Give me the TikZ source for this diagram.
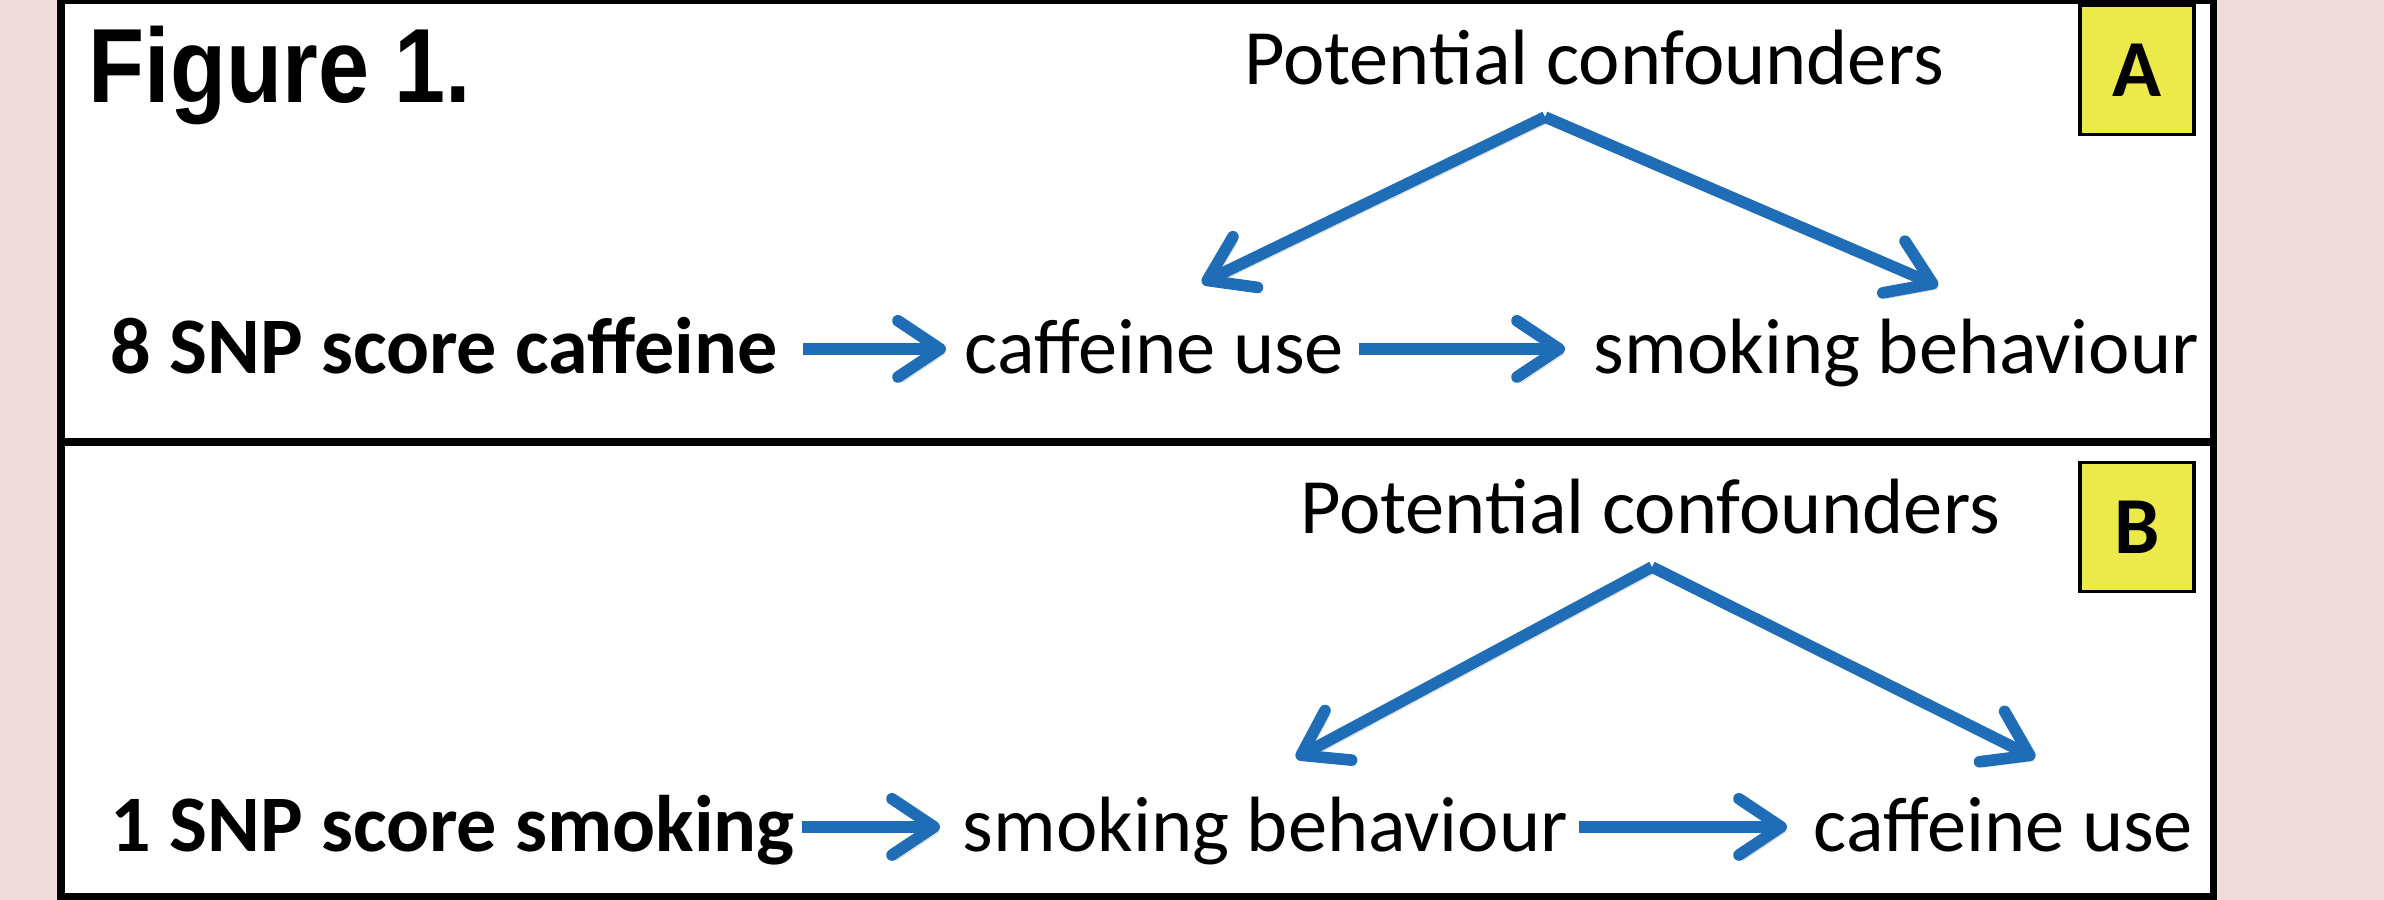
\documentclass[tikz,border=0pt]{standalone}
\usepackage{fontspec}
\setmainfont{Carlito}
\newfontfamily\headfont{Liberation Sans}
\usepackage{tikz}
\usetikzlibrary{arrows.meta, positioning}
\definecolor{arrowblue}{HTML}{1F6DB7}
\definecolor{labelyellow}{HTML}{ECE94A}
\definecolor{pagepink}{HTML}{F0DCDC}

\begin{document}
\begin{tikzpicture}[x=0.01cm, y=-0.01cm,
    txt/.style={inner sep=0pt, text height=15pt, text depth=1.3pt,
        font=\fontsize{22.3}{26}\selectfont},
    boldtxt/.style={txt, font=\fontsize{22.8}{26}\selectfont\bfseries},
    link/.style={arrowblue, line width=3.3pt,
        -{Straight Barb[length=12pt, width=16pt, round]},
        preaction={draw=black, opacity=0.12, transform canvas={shift={(1.2pt,-1.5pt)}}}},
    tag/.style={draw, line width=1pt, fill=labelyellow, inner sep=0pt,
        minimum width=1.14cm, minimum height=1.29cm,
        font=\fontsize{23}{26}\selectfont\bfseries}]
    % Page and frame
    \fill[pagepink] (0,0) rectangle (2384,900);
    \useasboundingbox (0,0) rectangle (2384,900);
    \fill[white] (61,0) rectangle (2213,897);
    \draw[line width=2pt] (61,0) rectangle (2213,897);
    \draw[line width=2.3pt] (61,442) -- (2213,442);

    % Title
    \node[anchor=base west, inner sep=0pt, font=\headfont\bfseries\fontsize{30}{34}\selectfont]
        (fig) at (88,102) {\scalebox{0.87}[1]{Figure 1.}};

    % Panel A
    \node[tag] (tagA) at (2137,70) {A};
    \node[txt, anchor=base] (confA) at (1594,84) {Potential confounders};
    \node[boldtxt, anchor=base west] (snpA) at (110,373) {8 SNP score caffeine};
    \node[txt, anchor=base west] (cafA) at (964,373) {caffeine use};
    \node[txt, anchor=base west] (smkA) at (1593,373) {smoking behaviour};
    \coordinate (topA) at (1545,117);
    \coordinate (leftA) at (1202,283);
    \coordinate (rightA) at (1938,286);

    \draw[link, shorten <=2.5mm, shorten >=1.8mm] (snpA.east) -- (cafA.west);
    \draw[link, shorten <=1.4mm, shorten >=2.8mm] (cafA.east) -- (smkA.west);
    \draw[link] (topA) -- (leftA);
    \draw[link] (topA) -- (rightA);

    % Panel B
    \node[tag] (tagB) at (2137,527) {B};
    \node[txt, anchor=base] (confB) at (1650,533) {Potential confounders};
    \node[boldtxt, anchor=base west] (snpB) at (110,851) {1 SNP score smoking};
    \node[txt, anchor=base west] (smkB) at (962,851) {smoking behaviour};
    \node[txt, anchor=base west] (cafB) at (1813,851) {caffeine use};
    \coordinate (topB) at (1652,567);
    \coordinate (leftB) at (1296,758);
    \coordinate (rightB) at (2035,758);

    \draw[link, shorten <=0.6mm, shorten >=2.2mm] (snpB.east) -- (smkB.west);
    \draw[link, shorten <=1mm, shorten >=2.6mm] (smkB.east) -- (cafB.west);
    \draw[link] (topB) -- (leftB);
    \draw[link] (topB) -- (rightB);
\end{tikzpicture}
\end{document}
